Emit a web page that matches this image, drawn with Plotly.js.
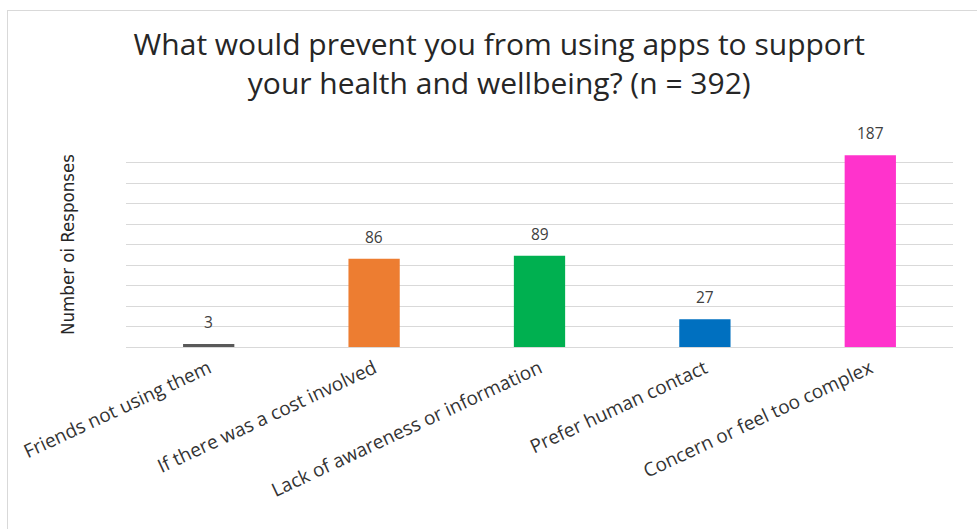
<!DOCTYPE html>
<html>
<head>
<meta charset="utf-8">
<script src="https://cdn.plot.ly/plotly-3.0.1.min.js"></script>
<style>
html,body{margin:0;padding:0;background:#fff;}
#wrap{position:relative;width:977px;height:529px;overflow:hidden;}
#frame{position:absolute;left:7px;top:10px;width:1200px;height:800px;border:1px solid #d9d9d9;pointer-events:none;}
#chart{position:absolute;left:0;top:0;width:977px;height:529px;}
</style>
</head>
<body>
<div id="wrap"><div id="chart"></div><div id="frame"></div></div>
<script>
const categories = ["Friends not using them", "If there was a cost involved", "Lack of awareness or information", "Prefer human contact", "Concern or feel too complex"];
const responses = [3, 86, 89, 27, 187];
const barColors = ["#595959", "#ed7d31", "#00b050", "#0070c0", "#ff33cc"];
const titleText = "What would prevent you from using apps to support<br>your health and wellbeing? (n = 392)";
const yTitle = "Number oi Responses";

const trace = {
  type: "bar",
  x: categories,
  y: responses,
  marker: {color: barColors},
  hoverinfo: "x+y"
};

const annotations = categories.map((c, i) => ({
  x: c, y: responses[i], xref: "x", yref: "y",
  text: String(responses[i]), showarrow: false,
  yanchor: "bottom", yshift: 9,
  font: {family: "'Open Sans', Lato, sans-serif", size: 15.5, color: "#404040"}
}));

const layout = {
  width: 977, height: 529,
  paper_bgcolor: "rgba(0,0,0,0)", plot_bgcolor: "rgba(0,0,0,0)",
  margin: {l: 126, r: 24, t: 141.5, b: 182.3},
  bargap: 0.69,
  showlegend: false,
  title: {
    text: titleText,
    x: 0.511, xref: "container", xanchor: "center",
    y: 1 - 55/529, yref: "container", yanchor: "top",
    font: {family: "'Open Sans', Lato, sans-serif", size: 30, color: "#262626"}
  },
  xaxis: {
    type: "category",
    tickangle: -25,
    showgrid: false, showline: false, ticks: "",
    ticklabelstandoff: 6,
    tickfont: {family: "'Open Sans', Lato, sans-serif", size: 19, color: "#333333"},
    automargin: false
  },
  yaxis: {
    range: [0, 200], dtick: 20,
    showgrid: true, gridcolor: "#d9d9d9", gridwidth: 1,
    zeroline: true, zerolinecolor: "#d9d9d9", zerolinewidth: 1,
    showticklabels: false, ticks: "", showline: false,
    automargin: false,
    title: {text: yTitle, standoff: 45,
      font: {family: "'DejaVu Sans Condensed', 'Liberation Sans Narrow', 'Liberation Sans', sans-serif", size: 18.5, color: "#262626"}}
  },
  annotations: annotations
};

Plotly.newPlot("chart", [trace], layout, {displayModeBar: false, staticPlot: true});
</script>
</body>
</html>
